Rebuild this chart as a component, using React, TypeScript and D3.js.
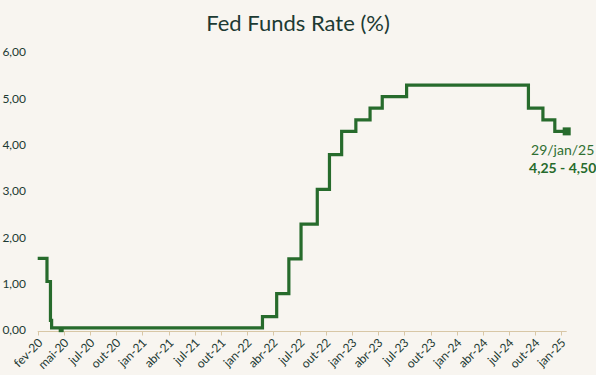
import React, { useEffect } from "react";
import * as d3 from "d3";

const title = "Fed Funds Rate (%)";

const rateDates = [
  "2020-02-01", "2020-03-04", "2020-03-16", "2020-03-20",
  "2022-03-17", "2022-05-05", "2022-06-16", "2022-07-28",
  "2022-09-22", "2022-11-03", "2022-12-15", "2023-02-02",
  "2023-03-23", "2023-05-04", "2023-07-27", "2024-09-19",
  "2024-11-08", "2024-12-19", "2025-01-29",
];
const rateValues = [
  1.59, 1.09, 0.25, 0.09,
  0.33, 0.83, 1.58, 2.33,
  3.08, 3.83, 4.33, 4.58,
  4.83, 5.08, 5.33, 4.83,
  4.58, 4.33, 4.33,
];

const markerDates = ["2020-04-22", "2025-01-29"];
const markerValues = [0.05, 4.33];

const tickDates = [
  "2020-02-01", "2020-05-01", "2020-07-31", "2020-10-29", "2021-01-27",
  "2021-04-28", "2021-07-27", "2021-10-25", "2022-01-23", "2022-04-24",
  "2022-07-23", "2022-10-21", "2023-01-20", "2023-04-20", "2023-07-19",
  "2023-10-18", "2024-01-16", "2024-04-15", "2024-07-14", "2024-10-13",
  "2025-01-11",
];
const tickLabels = [
  "fev-20", "mai-20", "jul-20", "out-20", "jan-21",
  "abr-21", "jul-21", "out-21", "jan-22", "abr-22",
  "jul-22", "out-22", "jan-23", "abr-23", "jul-23",
  "out-23", "jan-24", "abr-24", "jul-24", "out-24",
  "jan-25",
];
const yTicks = [0, 1, 2, 3, 4, 5, 6];

const annotationDate = "29/jan/25";
const annotationRange = "4,25 - 4,50";

const W = 596;
const H = 375;
const BG = "#f8f5f0";
const GREEN = "#276b2c";
const TEXT = "#1d3a33";
const AXIS = "#d8c7a6";
const FONT = "Lato, 'Open Sans', sans-serif";

const parse = d3.utcParse("%Y-%m-%d");
const ptFormat = d3.formatLocale({
  decimal: ",",
  thousands: ".",
  grouping: [3],
  currency: ["R$", ""],
}).format(".2f");

export default function App() {
  useEffect(() => {
    document.body.style.margin = "0";
    document.body.style.background = BG;
  }, []);

  const x = d3
    .scaleTime()
    .domain([parse(rateDates[0])!, parse(rateDates[rateDates.length - 1])!])
    .range([37.7, 566.7]);
  const y = d3.scaleLinear().domain([0, 6]).range([332, 54]);

  const data = rateDates.map((d, i) => ({ date: parse(d)!, value: rateValues[i] }));
  const line = d3
    .line<{ date: Date; value: number }>()
    .x((d) => x(d.date))
    .y((d) => y(d.value))
    .curve(d3.curveStepAfter);

  const axisY = Math.round(y(0)) - 0.5;
  const [x0, x1] = x.range();
  const lastX = x(parse(rateDates[rateDates.length - 1])!);

  return (
    <svg
      width={W}
      height={H}
      style={{ position: "absolute", left: 0, top: 0, display: "block" }}
      fontFamily={FONT}
    >
      <rect x={0} y={0} width={W} height={H} fill={BG} />
      <text x={W / 2} y={31} textAnchor="middle" fontSize={22} fill={TEXT}>
        {title}
      </text>

      {yTicks.map((t) => (
        <text
          key={t}
          x={26}
          y={y(t) - 1.8}
          dy="0.35em"
          textAnchor="end"
          fontSize={12}
          fill={TEXT}
        >
          {ptFormat(t)}
        </text>
      ))}

      <line x1={x0} x2={x1} y1={axisY} y2={axisY} stroke={AXIS} strokeWidth={1} />
      {tickDates.map((d, i) => {
        const tx = Math.round(x(parse(d)!)) + 0.5;
        return (
          <g key={d}>
            <line x1={tx} x2={tx} y1={axisY} y2={axisY + 4} stroke={AXIS} strokeWidth={1} />
            <text
              transform={`translate(${tx + 2},${axisY + 9}) rotate(-45)`}
              textAnchor="end"
              dy="0.35em"
              fontSize={12}
              fill={TEXT}
            >
              {tickLabels[i]}
            </text>
          </g>
        );
      })}

      <path d={line(data) ?? ""} fill="none" stroke={GREEN} strokeWidth={3.2} strokeLinejoin="miter" />

      {markerDates.map((d, i) => {
        const mx = x(parse(d)!);
        const my = y(markerValues[i]);
        const s = i === 0 ? 5 : 8;
        return <rect key={d} x={mx - s / 2} y={my - s / 2} width={s} height={s} fill={GREEN} />;
      })}

      <text x={lastX - 4} y={155} textAnchor="middle" fontSize={14} fill="#2f6f31">
        {annotationDate}
      </text>
      <text x={lastX - 4} y={173} textAnchor="middle" fontSize={14} fontWeight="bold" fill={GREEN}>
        {annotationRange}
      </text>
    </svg>
  );
}
